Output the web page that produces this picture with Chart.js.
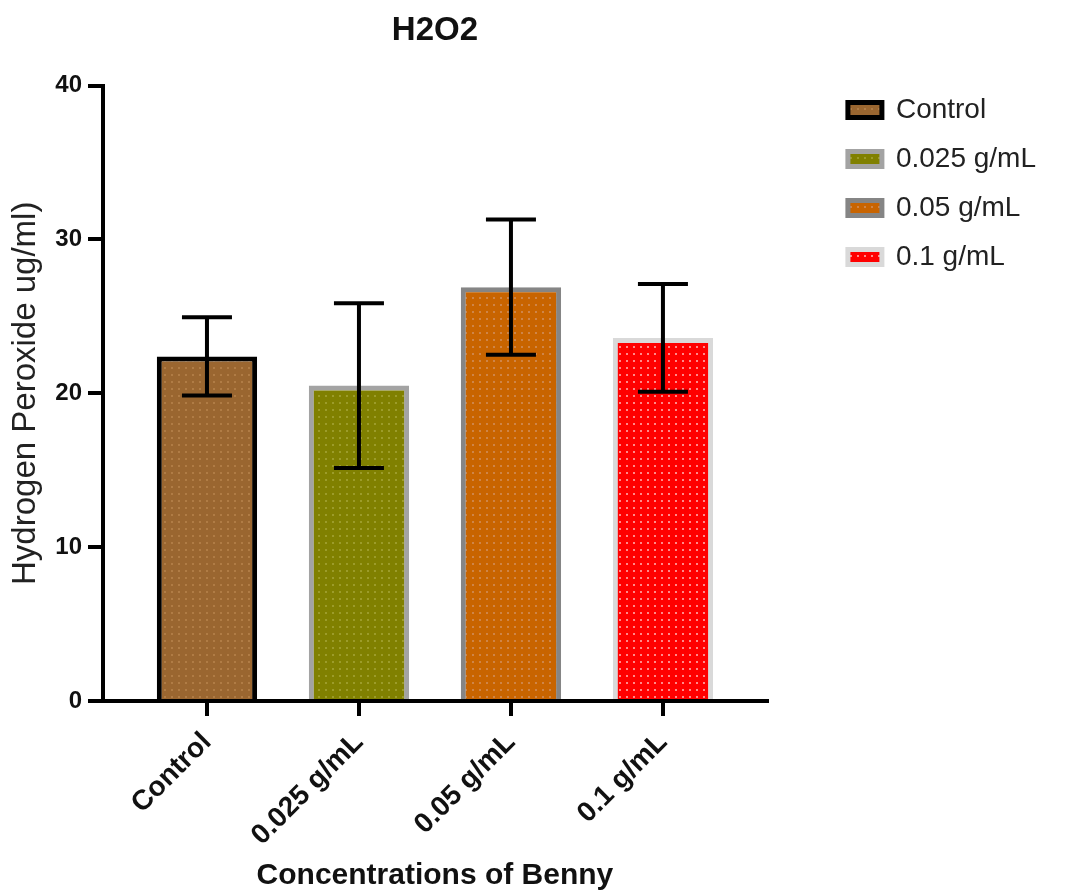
<!DOCTYPE html>
<html>
<head>
<meta charset="utf-8">
<script src="https://cdn.jsdelivr.net/npm/chart.js@4.4.1/dist/chart.umd.min.js"></script>
<style>
  body { margin: 0; background: #fff; }
  #wrap { width: 1067px; height: 894px; }
</style>
</head>
<body>
<div id="wrap"><canvas id="grafico"></canvas></div>
<script>
// dados
const categorias = ['Control', '0.025 g/mL', '0.05 g/mL', '0.1 g/mL'];
const medias = [22.4, 20.5, 26.9, 23.6];
const desvios = [2.55, 5.35, 4.4, 3.5];
const ticksY = [0, 10, 20, 30, 40];

// cores de cada barra
const fundo = ['#9a6630', '#808000', '#c86400', '#ff0000'];
const pontos = ['#b07c45', '#9c9c2a', '#cf8548', '#ff8a8a'];
const bordas = ['#000000', '#a3a3a3', '#858585', '#d9d9d9'];

const fonte = "'Liberation Sans', Arial, sans-serif";

// padrão pontilhado que imita o preenchimento do original
function pontilhado(base, ponto) {
  const c = document.createElement('canvas');
  c.width = 7; c.height = 7;
  const g = c.getContext('2d');
  g.fillStyle = base;
  g.fillRect(0, 0, 7, 7);
  g.fillStyle = ponto;
  g.fillRect(3, 3, 2, 2);
  return g.createPattern(c, 'repeat');
}

// barras de erro (média ± desvio)
const barrasErro = {
  id: 'barrasErro',
  afterDatasetsDraw(chart) {
    const ctx = chart.ctx;
    const y = chart.scales.y;
    ctx.save();
    ctx.strokeStyle = '#000';
    ctx.lineWidth = 4;
    chart.data.datasets.forEach((ds, i) => {
      const meta = chart.getDatasetMeta(i);
      meta.data.forEach((bar) => {
        const topo = y.getPixelForValue(medias[i] + desvios[i]);
        const base = y.getPixelForValue(medias[i] - desvios[i]);
        ctx.beginPath();
        ctx.moveTo(bar.x, topo); ctx.lineTo(bar.x, base);
        ctx.moveTo(bar.x - 25, topo); ctx.lineTo(bar.x + 25, topo);
        ctx.moveTo(bar.x - 25, base); ctx.lineTo(bar.x + 25, base);
        ctx.stroke();
      });
    });
    ctx.restore();
  }
};

const ctx = document.getElementById('grafico').getContext('2d');
const grafico = new Chart(ctx, {
  type: 'bar',
  data: {
    datasets: categorias.map((nome, i) => ({
      label: nome,
      data: [{ x: i, y: medias[i] }],
      backgroundColor: pontilhado(fundo[i], pontos[i]),
      borderColor: bordas[i],
      borderWidth: 5,
      borderSkipped: 'bottom',
      grouped: false,
      barPercentage: 0.66,
      categoryPercentage: 1
    }))
  },
  options: {
    responsive: true,
    maintainAspectRatio: false,
    animation: false,
    layout: { padding: { left: 0, right: 21, top: 0, bottom: 0 } },
    plugins: {
      title: {
        display: true,
        text: 'H2O2',
        fullSize: false,
        color: '#111',
        font: { family: fonte, size: 33, weight: 'bold' },
        padding: { top: 11, bottom: 35 }
      },
      legend: {
        position: 'right',
        align: 'start',
        maxWidth: 400,
        title: { display: true, text: '', font: { size: 10 }, padding: { top: 63, bottom: 0 } },
        labels: {
          color: '#222',
          font: { family: fonte, size: 28 },
          boxWidth: 34,
          boxHeight: 15,
          padding: 21
        }
      },
      tooltip: { enabled: false }
    },
    scales: {
      x: {
        type: 'linear',
        min: -0.684,
        max: 3.684,
        offset: false,
        z: 1,
        afterFit: (s) => { s.height = 193; },
        grid: { offset: false, drawOnChartArea: false, drawTicks: true, tickLength: 15, lineWidth: 4, color: '#000' },
        border: { display: true, color: '#000', width: 4 },
        ticks: {
          stepSize: 1,
          includeBounds: false,
          autoSkip: false,
          minRotation: 45,
          maxRotation: 45,
          padding: 10,
          color: '#111',
          font: { family: fonte, size: 28, weight: 'bold' },
          callback: (v) => categorias[v] ?? ''
        },
        title: {
          display: true,
          text: 'Concentrations of Benny',
          color: '#111',
          font: { family: fonte, size: 30, weight: 'bold' },
          padding: { top: 4, bottom: 0 }
        }
      },
      y: {
        min: 0,
        max: 40,
        z: 1,
        afterFit: (s) => { s.width = 103; },
        afterBuildTicks: (s) => { s.ticks = ticksY.map((v) => ({ value: v })); },
        grid: { drawOnChartArea: false, drawTicks: true, tickLength: 15, lineWidth: 4, color: '#000' },
        border: { display: true, color: '#000', width: 4 },
        ticks: {
          padding: 6,
          color: '#111',
          font: { family: fonte, size: 24, weight: 'bold' }
        },
        title: {
          display: true,
          text: 'Hydrogen Peroxide ug/ml)',
          color: '#222',
          font: { family: fonte, size: 33 },
          padding: { top: 6, bottom: 4 }
        }
      },
      // eixo invisível só para afastar a legenda da área do gráfico
      y2: {
        position: 'right',
        display: true,
        afterFit: (s) => { s.width = 60; },
        grid: { display: false },
        border: { display: false },
        ticks: { display: false }
      }
    }
  },
  plugins: [barrasErro]
});
</script>
</body>
</html>
